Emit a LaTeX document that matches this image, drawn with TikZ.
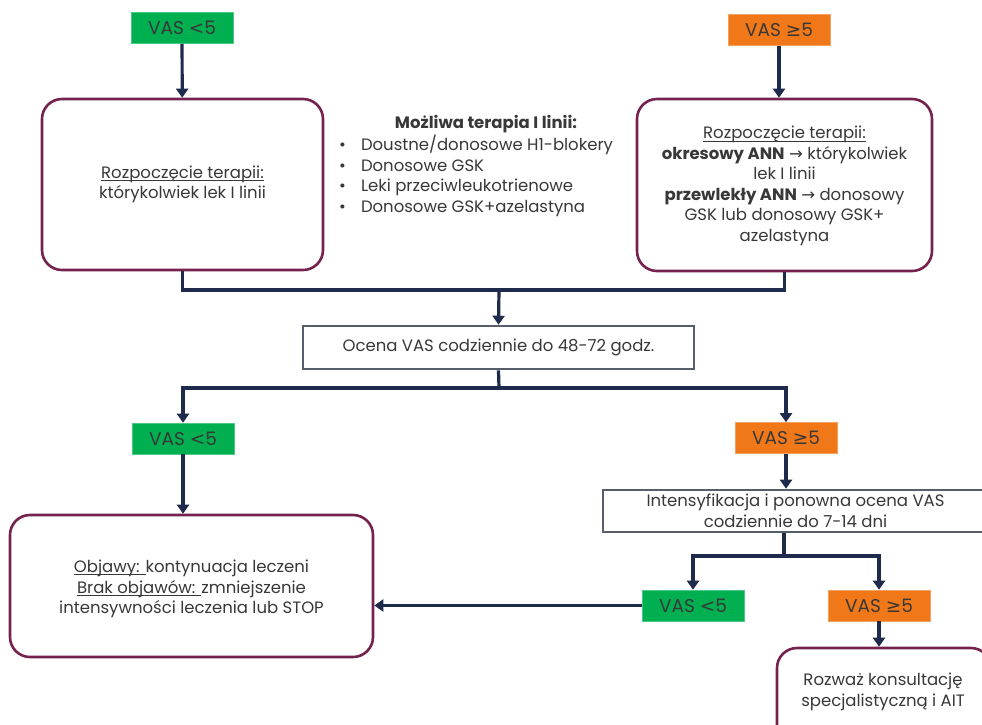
\documentclass[tikz,border=0pt]{standalone}
\usepackage{fontspec}
\setmainfont{Poppins}
\newfontfamily\symf{DejaVu Sans}
\usetikzlibrary{arrows.meta}
\definecolor{navy}{HTML}{1F2B4C}
\definecolor{maroon}{HTML}{76224E}
\definecolor{vgreen}{HTML}{00B050}
\definecolor{vorange}{HTML}{F07819}
\definecolor{gborder}{HTML}{585D6C}
\definecolor{txt}{HTML}{383838}
\newcommand{\gesym}{{\symf\char"2265}}
\newcommand{\ltsym}{{\symf<}}
\newcommand{\rarr}{{\symf\char"2192}}
\newcommand{\ulx}[1]{\setbox0\hbox{#1}\rlap{\rule[-2.4pt]{\wd0}{0.7pt}}\box0}
\begin{document}
\begin{tikzpicture}[x=1pt,y=-1pt,
  font=\fontsize{16.5}{20.5}\selectfont, text=txt,
  vgr/.style={fill=vgreen, draw=vgreen!70!white, line width=0.6pt, minimum width=102pt, minimum height=31pt, inner sep=0pt, font=\fontsize{18.5}{20}\selectfont},
  vor/.style={fill=vorange, draw=vorange!70!white, line width=0.6pt, minimum width=102pt, minimum height=31pt, inner sep=0pt, font=\fontsize{18.5}{20}\selectfont},
  rbox/.style={draw=maroon, line width=2.6pt, rounded corners=20pt, fill=white, inner sep=0pt, align=center},
  gbox/.style={draw=gborder, line width=2.6pt, fill=white, inner sep=0pt, align=center},
  conn/.style={draw=navy, line width=3.2pt},
  arr/.style={draw=navy, line width=3.2pt, -{Triangle[width=12pt,length=9pt]}}
]
\clip (0,0) rectangle (982,724);
\fill[white] (0,0) rectangle (982,724);

% top row
\node[vgr] (v1l) at (182,28) {VAS \ltsym5};
\node[vor] (v1r) at (779,30) {VAS \gesym5};
\node[rbox, minimum width=281pt, minimum height=171pt] (lb) at (182.5,184.5)
  {\ulx{Rozpoczęcie terapii:}\\którykolwiek lek I linii};
\node[rbox, minimum width=295pt, minimum height=172pt] (rb) at (784.5,185) {};
\node[align=center, inner sep=0pt] (rbt) at (784.5,186)
  {\ulx{Rozpoczęcie terapii:}\\
   \textbf{okresowy ANN} \rarr{} którykolwiek\\
   lek I linii\\
   \textbf{przewlekły ANN} \rarr{} donosowy\\
   GSK lub donosowy GSK+\\
   azelastyna};

\node[inner sep=0pt, font=\fontsize{16.5}{20.5}\selectfont\bfseries] (mt) at (486,124) {Możliwa terapia I linii:};
\node[anchor=north west, inner sep=0pt, align=left] (ml) at (339,135)
  {\textbullet\hspace{15pt}Doustne/donosowe H1-blokery\\
   \textbullet\hspace{15pt}Donosowe GSK\\
   \textbullet\hspace{15pt}Leki przeciwleukotrienowe\\
   \textbullet\hspace{15pt}Donosowe GSK+azelastyna};

\draw[arr] (v1l) -- (lb);
\draw[arr] (v1r) -- (v1r |- rb.north);

% merge
\coordinate (j1) at (499,290);
\draw[conn] (lb.south) |- (j1) -| (rb.south);
\node[gbox, minimum width=391pt, minimum height=43pt] (oc) at (498.5,347.5) {Ocena VAS codziennie do 48-72 godz.};
\draw[arr] (j1) -- (oc.north);

% split
\coordinate (j2) at (499,388);
\draw[conn] (oc.south) -- (j2);
\node[vgr] (v2l) at (183,438.5) {VAS \ltsym5};
\node[vor] (v2r) at (786,438) {VAS \gesym5};
\draw[arr] (j2) -| (v2l.north);
\draw[arr] (j2) -| (v2r.north);

% left bottom
\node[rbox, minimum width=363pt, minimum height=142pt] (lbb) at (191.5,586) {};
\node[align=center, inner sep=0pt] (lbbt) at (191.5,589)
  {\ulx{Objawy: }kontynuacja leczeni\\
   \ulx{Brak objawów: }zmniejszenie\\
   intensywności leczenia lub STOP};
\draw[arr] (v2l.south) -- (v2l.south |- lbb.north);

% intensification
\node[gbox, minimum width=385pt, minimum height=42pt] (in) at (795.5,511)
  {Intensyfikacja i ponowna ocena VAS\\codziennie do 7-14 dni};
\coordinate (j3) at (784,556);
\draw[arr] (v2r.south) -- (v2r.south |- in.north);
\draw[conn] (in.south -| j3) -- (j3);
\node[vgr] (v3l) at (693,605.5) {VAS \ltsym5};
\node[vor] (v3r) at (879,605.5) {VAS \gesym5};
\draw[arr] (j3) -| (v3l.north);
\draw[arr] (j3) -| (v3r.north);
\draw[arr] (v3l.west) -- (v3l.west -| lbb.east);

% last
\node[rbox, minimum width=214pt, minimum height=110pt] (last) at (884,703) {};
\node[align=center, inner sep=0pt] (lastt) at (883,692) {Rozważ konsultację\\specjalistyczną i AIT};
\draw[arr] (v3r.south) -- (v3r.south |- last.north);
\end{tikzpicture}
\end{document}
